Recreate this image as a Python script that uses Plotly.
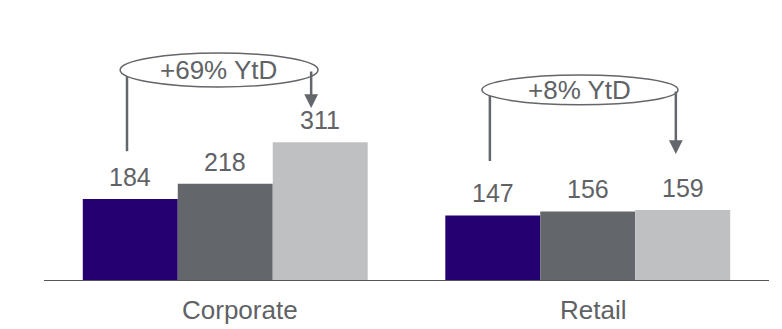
import plotly.graph_objects as go

categories = ["Corporate", "Retail"]
series_names = ["Period 1", "Period 2", "Period 3"]
series_values = [
    [184, 147],
    [218, 156],
    [311, 159],
]
growth_labels = ["+69% YtD", "+8% YtD"]

colors = ["#250070", "#63666A", "#BFC0C2"]
text_color = "#606265"
font_family = "Arial, Liberation Sans, sans-serif"

fig = go.Figure()
for name, vals, col in zip(series_names, series_values, colors):
    fig.add_trace(go.Bar(
        x=categories, y=vals, name=name,
        marker=dict(color=col, line=dict(width=0)),
        showlegend=False, hoverinfo="skip",
    ))

annotations = []
bar_w = (1 - 0.214) / 3
offsets = [-bar_w, 0, bar_w]
for i, vals in enumerate(series_values):
    for j, v in enumerate(vals):
        annotations.append(dict(
            x=j + offsets[i], y=v, xref="x", yref="y",
            text=str(v), showarrow=False, yanchor="middle", yshift=22,
            font=dict(size=25, color=text_color, family=font_family),
        ))

# category labels
cat_shift = [15, 5]
for j, c in enumerate(categories):
    annotations.append(dict(
        x=j, y=0, xref="x", yref="y", text=c, showarrow=False,
        yanchor="middle", yshift=-29, xshift=cat_shift[j],
        font=dict(size=26, color=text_color, family=font_family),
    ))

# growth callouts (layout geometry)
callouts = [
    dict(ex0=-0.290, ex1=0.256, ey0=435, ey1=511, lx=-0.271, ly0=291, rx=0.237, tip=388, tx=-0.02),
    dict(ex0=0.708, ex1=1.249, ey0=395, ey1=462, lx=0.730, ly0=269, rx=1.243, tip=285, tx=0.976),
]
shapes = []
for k, c in enumerate(callouts):
    ymid = (c["ey0"] + c["ey1"]) / 2
    shapes.append(dict(type="line", xref="x", yref="y", x0=c["lx"], x1=c["lx"],
                       y0=c["ly0"], y1=ymid, line=dict(color="#63666A", width=2.5)))
    annotations.append(dict(
        x=c["rx"], y=c["tip"], ax=c["rx"], ay=ymid, xref="x", yref="y",
        axref="x", ayref="y", text="", showarrow=True, arrowhead=2,
        arrowsize=1.1, arrowwidth=2.5, arrowcolor="#63666A", standoff=0,
    ))
    shapes.append(dict(type="circle", xref="x", yref="y", x0=c["ex0"], x1=c["ex1"],
                       y0=c["ey0"], y1=c["ey1"], fillcolor="white",
                       line=dict(color="#63666A", width=1.5), layer="above"))
    annotations.append(dict(
        x=c["tx"], y=ymid, xref="x", yref="y", text=growth_labels[k],
        showarrow=False, yanchor="middle",
        font=dict(size=26, color=text_color, family=font_family),
    ))

fig.update_layout(
    width=782, height=329,
    margin=dict(l=44, r=13, t=0, b=48),
    paper_bgcolor="white", plot_bgcolor="white",
    barmode="group", bargap=0.214, bargroupgap=0,
    xaxis=dict(range=[-0.5, 1.5], showticklabels=False, showgrid=False,
               zeroline=False, showline=False, ticks=""),
    yaxis=dict(range=[0, 630], visible=False, showgrid=False, zeroline=False),
    shapes=shapes + [dict(type="line", xref="paper", yref="y", x0=0, x1=1, y0=0, y1=0,
                          line=dict(color="#555555", width=2), layer="above")],
    annotations=annotations,
    font=dict(family=font_family),
)

fig.write_html(
    "out.html",
    config={"displayModeBar": False},
    post_script="document.body.style.margin='0';document.body.style.overflow='hidden';",
)
